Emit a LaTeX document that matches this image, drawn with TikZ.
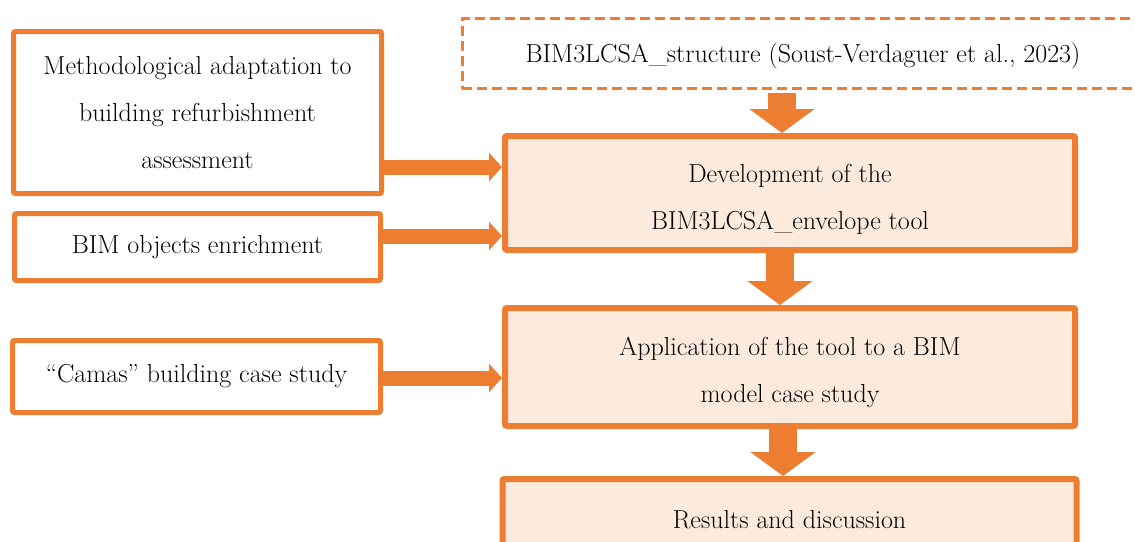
\documentclass[tikz,border=0pt]{standalone}
\usepackage{fontspec}
\usetikzlibrary{arrows.meta}
\definecolor{orng}{HTML}{ED7D31}
\definecolor{peach}{HTML}{FCEBDD}
\begin{document}
\begin{tikzpicture}[x=1pt,y=-1pt,
  every node/.style={font=\fontsize{26}{47}\selectfont, align=center, inner sep=0pt},
  sidebox/.style={draw=orng, line width=5pt, rounded corners=2pt, fill=white},
  mainbox/.style={draw=orng, line width=6pt, rounded corners=2pt, fill=peach},
  dashbox/.style={draw=orng, line width=3pt, dash pattern=on 10pt off 5pt, fill=white},
  lowtext/.style={label={[align=center, yshift=#1]center:{}}},
  harrow/.style={draw=orng, line width=15pt, -{Triangle[width=28pt,length=13pt]}},
  varrow/.style={draw=orng, line width=28pt, -{Triangle[width=64pt,length=24pt]}}]
\clip (0,0) rectangle (1135,541);
\fill[white] (0,0) rectangle (1135,541);

\node[dashbox, minimum width=681.5pt, minimum height=70pt,
  label={[yshift=-3pt]center:BIM3LCSA\_structure (Soust-Verdaguer et al., 2023)}] (S) at (803,53.5) {};
\node[sidebox, minimum width=368pt, minimum height=162pt] (M) at (197.5,112.5)
  {Methodological adaptation to\\building refurbishment\\assessment};
\node[sidebox, minimum width=366pt, minimum height=67pt] (O) at (197.5,247)
  {BIM objects enrichment};
\node[sidebox, minimum width=368pt, minimum height=72pt] (C) at (196.5,376.5)
  {“Camas” building case study};
\node[mainbox, minimum width=570pt, minimum height=114pt,
  label={[align=center, yshift=-6pt]center:Development of the\\BIM3LCSA\_envelope tool}] (D) at (790,193) {};
\node[mainbox, minimum width=570pt, minimum height=118pt,
  label={[align=center, yshift=-5pt]center:Application of the tool to a BIM\\model case study}] (A) at (790,367) {};
\node[mainbox, minimum width=574pt, minimum height=82pt] (R) at (789.5,520)
  {Results and discussion};

% horizontal arrows
\draw[harrow] ([yshift=-54.5pt]M.east) coordinate (h1) -- (h1 -| D.west);
\draw[harrow] ([yshift=11pt]O.east) coordinate (h2) -- (h2 -| D.west);
\draw[harrow] ([yshift=-1.5pt]C.east) coordinate (h3) -- (h3 -| A.west);

% vertical arrows
\path ([xshift=-8pt]D.north) coordinate (v1);
\draw[varrow, shorten <=3pt] (S.south -| v1) -- (v1);
\path ([xshift=-10pt]D.south) coordinate (v2);
\draw[varrow] (v2) -- (v2 |- A.north);
\path ([xshift=-7pt]A.south) coordinate (v3);
\draw[varrow] (v3) -- (v3 |- R.north);
\end{tikzpicture}
\end{document}
